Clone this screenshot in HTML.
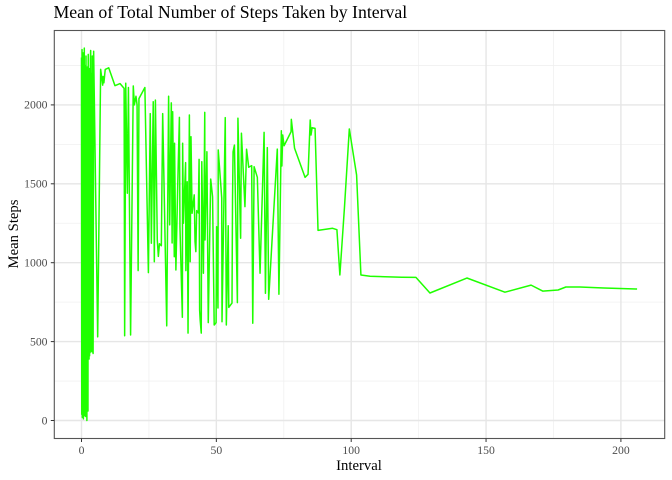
<!DOCTYPE html>
<html>
<head>
<meta charset="utf-8">
<style>
html,body{margin:0;padding:0;background:#fff;}
svg{display:block;font-family:"Liberation Serif",serif;}
</style>
</head>
<body>
<svg id="chart" width="672" height="480" viewBox="0 0 672 480" xmlns="http://www.w3.org/2000/svg">
<rect x="0" y="0" width="672" height="480" fill="#fff"/>
<text x="53.5" y="18" font-size="17.75" fill="#000">Mean of Total Number of Steps Taken by Interval</text>
<g id="grid"></g>
<path id="series" fill="none" stroke="#1fff00" stroke-width="1.5" stroke-linejoin="round"/>
<rect x="54.3" y="30.5" width="610.4" height="408" fill="none" stroke="#555" stroke-width="1.1"/>
<g id="axes"></g>
<text x="359" y="470" font-size="14.7" text-anchor="middle" fill="#000">Interval</text>
<text transform="translate(18 234) rotate(-90)" font-size="14.7" text-anchor="middle" fill="#000">Mean Steps</text>
</svg>
<script>
var xTicks = [0, 50, 100, 150, 200];
var yTicks = [0, 500, 1000, 1500, 2000];
var xMinor = [25, 75, 125, 175];
var yMinor = [250, 750, 1250, 1750, 2250];
var intervals = [0,0.1,0.2,0.3,0.4,0.5,0.6,0.7,0.8,0.9,1.04,1.15,1.25,1.35,1.45,1.55,1.67,1.8,1.9,2,2.1,2.2,2.3,2.4,2.5,2.6,2.7,2.8,2.9,3,3.1,3.2,3.3,3.4,3.5,3.6,3.7,3.8,3.9,4,4.1,4.2,4.3,4.5,6,7.1,7.85,8,8.3,8.8,10.1,12.4,14.3,15.8,16,16.4,17,17.4,18.2,19.2,19.6,20.2,20.6,21,21.3,23.5,24.8,25.5,25.9,26.6,27,27.4,28.1,28.5,28.9,29.6,30.1,31.6,32.3,32.7,33.3,33.6,33.8,34.4,34.5,35,35.7,36.3,36.5,37.4,37.5,37.8,38.6,38.7,39.2,39.5,40,40.3,40.6,41,41.8,42.1,42.4,42.7,43.3,43.6,43.8,44,44.4,44.6,45.2,45.7,45.8,46.5,47,47.9,48.6,49.2,49.9,50.1,50.6,50.7,52,52.1,53.3,53.7,54.4,54.6,55.8,56,56.2,56.7,57.8,58,59,59.3,60.6,61.2,62,63.1,63.5,64,65.2,66.2,67.7,68.2,68.9,69.4,72.6,73.2,74.1,74.3,74.6,75.1,77.7,77.8,79,82.9,84,84.8,85.1,85.5,86.6,87.7,93.1,94.7,95.8,97.5,99.3,102,103.6,107,118.8,124,129.2,142.9,157,166.7,171,176.7,179.6,184.8,193.7,206];
var meanSteps = [2300,40,2350,20,2280,60,2330,10,2200,90,2360,30,2250,100,2180,25,2310,70,2120,0,2240,110,2150,60,2320,400,2100,390,2230,410,2180,430,2290,2345,440,2200,450,2090,435,2310,445,2150,425,2340,530,2225,2125,2180,2140,2225,2235,2122,2135,2105,537,2137,1440,2110,542,2120,2000,2055,2000,950,2040,2110,937,1945,1123,2020,1006,2030,1144,1040,1120,1108,1945,600,2055,1240,2013,1125,1957,1038,1757,954,1505,1921,1228,654,1757,1250,1634,950,1513,554,1936,1006,1798,1313,1430,1133,1070,1330,1315,1655,700,637,554,1640,933,1953,1144,1703,620,1530,1418,605,620,1228,713,1714,1410,626,1919,605,1234,717,744,1404,1703,1745,747,1915,1155,1820,1355,1719,1605,1615,616,1608,1541,933,1826,806,1729,768,1720,800,1836,1613,1809,1741,1830,1908,1725,1541,1560,1904,1809,1855,1851,1205,1218,1209,922,1350,1847,1556,922,914,908,907,808,903,813,858,820,827,846,846,840,833];

var svgNS = 'http://www.w3.org/2000/svg';
function xScale(v) { return 81.5 + v * 2.697; }
function yScale(v) { return 420.5 - v * 0.1578; }
var panelL = 54.3, panelR = 664.7, panelT = 30.5, panelB = 438.5;
var grid = document.getElementById('grid');
var axes = document.getElementById('axes');

function makeLine(parent, x1, y1, x2, y2, color, width) {
  var l = document.createElementNS(svgNS, 'line');
  l.setAttribute('x1', x1);
  l.setAttribute('y1', y1);
  l.setAttribute('x2', x2);
  l.setAttribute('y2', y2);
  l.setAttribute('stroke', color);
  l.setAttribute('stroke-width', width);
  parent.appendChild(l);
  return l;
}
function makeText(x, y, anchor, str) {
  var t = document.createElementNS(svgNS, 'text');
  t.setAttribute('x', x);
  t.setAttribute('y', y);
  t.setAttribute('text-anchor', anchor);
  t.setAttribute('font-size', '11.7');
  t.setAttribute('fill', '#4d4d4d');
  t.textContent = str;
  axes.appendChild(t);
  return t;
}
xMinor.forEach(function (v) {
  var l = makeLine(grid, xScale(v), panelT, xScale(v), panelB, '#f0f0f0', 0.8);
  
  
});
yMinor.forEach(function (v) {
  var l = makeLine(grid, panelL, yScale(v), panelR, yScale(v), '#f0f0f0', 0.8);
  
  
});
xTicks.forEach(function (v) {
  var l = makeLine(grid, xScale(v), panelT, xScale(v), panelB, '#e6e6e6', 1.4);
  
  
  var k = makeLine(axes, xScale(v), panelB, xScale(v), panelB + 3.5, '#333', 1);
  
  
  var t = makeText(xScale(v), 454, 'middle', String(v));
  
  
});
yTicks.forEach(function (v) {
  var l = makeLine(grid, panelL, yScale(v), panelR, yScale(v), '#e6e6e6', 1.4);
  
  
  var k = makeLine(axes, panelL - 3.5, yScale(v), panelL, yScale(v), '#333', 1);
  
  
  var t = makeText(47.5, yScale(v) + 3.8, 'end', String(v));
  
  
});
var d = '';
intervals.forEach(function (v, i) {
  d += (i ? 'L' : 'M') + xScale(v).toFixed(2) + ' ' + yScale(meanSteps[i]).toFixed(2);
});
document.getElementById('series').setAttribute('d', d);
</script>
</body>
</html>
